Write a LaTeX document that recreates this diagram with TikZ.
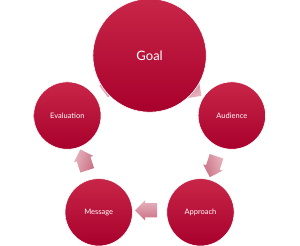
\documentclass[tikz,border=0pt]{standalone}
\usepackage{fontspec}
\setsansfont{Lato}
\usepackage{tikz}
\usetikzlibrary{shapes.arrows, calc}
\usepackage{xcolor}
\definecolor{ringtop}{RGB}{200,38,72}
\definecolor{ringbot}{RGB}{168,0,44}
\definecolor{flowtop}{RGB}{203,112,132}
\definecolor{flowbot}{RGB}{230,180,190}

\begin{document}
\begin{tikzpicture}[x=1pt, y=1pt, font=\sffamily,
  stage/.style={circle, draw=white, line width=0.6pt, top color=ringtop,
                bottom color=ringbot, text=white, inner sep=0pt,
                minimum size=67.4pt, font=\sffamily\fontsize{7.5}{9}\selectfont},
  flow/.style={single arrow, draw=none, inner xsep=0pt, inner ysep=7pt,
               minimum height=22pt, single arrow head extend=3pt,
               rotate=#1, top color=flowtop, bottom color=flowbot,
               shading angle=-#1}]
  \useasboundingbox (0,0) rectangle (300,246);
  \coordinate (hub) at (149.6,103.7);
  % arrows between the stages, behind the circles
  \node[flow=-36]  (toaud)  at ([shift={(54:68)}]hub)   {};
  \node[flow=-108] (toappr) at ([shift={(-18:68)}]hub)  {};
  \node[flow=-180] (tomsg)  at ([shift={(-90:68)}]hub)  {};
  \node[flow=108]  (toeval) at ([shift={(-162:68)}]hub) {};
  \node[flow=36]   (togoal) at ([shift={(126:68)}]hub)  {};
  % the stages
  \node[stage, minimum size=113.4pt, font=\sffamily\fontsize{13}{15}\selectfont]
    (goal) at ([shift={(90:86.8)}]hub) {Goal};
  \node[stage] (aud)  at ([shift={(18:86.5)}]hub)   {Audience};
  \node[stage] (appr) at ([shift={(-54:86.5)}]hub)  {Approach};
  \node[stage] (msg)  at ([shift={(-126:86.5)}]hub) {Message};
  \node[stage] (eval) at ([shift={(162:86.5)}]hub)  {Evaluation};
\end{tikzpicture}
\end{document}
